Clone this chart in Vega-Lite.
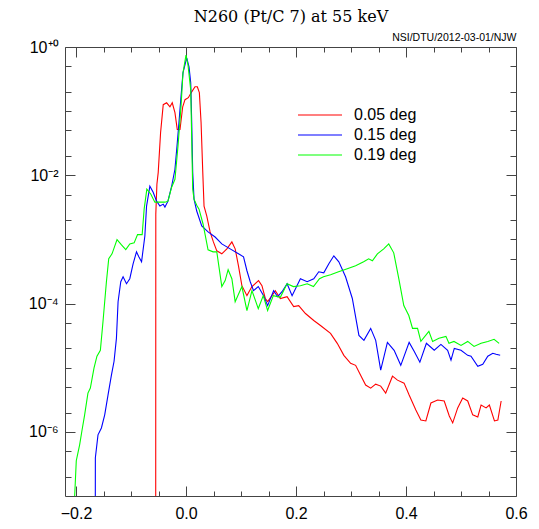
{
  "$schema": "https://vega.github.io/schema/vega-lite/v6.json",
  "width": 451,
  "height": 449,
  "autosize": "none",
  "padding": {"left": 65, "top": 47, "right": 23, "bottom": 33},
  "background": "white",
  "config": {"view": {"stroke": "#444", "strokeWidth": 1}, "font": "Liberation Sans"},
  "datasets": {
    "curves": [
      {"s":"0.05 deg","x":-0.0551,"y":1e-8},{"s":"0.05 deg","x":-0.0549,"y":2.48e-3},{"s":"0.05 deg","x":-0.0529,"y":7.25e-3},{"s":"0.05 deg","x":-0.0505,"y":0.0111},{"s":"0.05 deg","x":-0.0462,"y":0.0464},{"s":"0.05 deg","x":-0.0414,"y":0.126},{"s":"0.05 deg","x":-0.0352,"y":0.135},{"s":"0.05 deg","x":-0.0292,"y":0.117},{"s":"0.05 deg","x":-0.025,"y":0.135},{"s":"0.05 deg","x":-0.0201,"y":0.0948},{"s":"0.05 deg","x":-0.0159,"y":0.0517},{"s":"0.05 deg","x":-0.0109,"y":0.0517},{"s":"0.05 deg","x":-0.006,"y":0.117},{"s":"0.05 deg","x":-0.0018,"y":0.151},{"s":"0.05 deg","x":0.0042,"y":0.162},{"s":"0.05 deg","x":0.0104,"y":0.2},{"s":"0.05 deg","x":0.0164,"y":0.24},{"s":"0.05 deg","x":0.0206,"y":0.24},{"s":"0.05 deg","x":0.0243,"y":0.194},{"s":"0.05 deg","x":0.0274,"y":0.0663},{"s":"0.05 deg","x":0.0305,"y":0.0111},{"s":"0.05 deg","x":0.0328,"y":3.31e-3},{"s":"0.05 deg","x":0.0378,"y":2.31e-3},{"s":"0.05 deg","x":0.0438,"y":1.31e-3},{"s":"0.05 deg","x":0.0498,"y":9.15e-4},{"s":"0.05 deg","x":0.056,"y":6.64e-4},{"s":"0.05 deg","x":0.0651,"y":5.96e-4},{"s":"0.05 deg","x":0.0743,"y":7.13e-4},{"s":"0.05 deg","x":0.0834,"y":9.15e-4},{"s":"0.05 deg","x":0.0894,"y":7.13e-4},{"s":"0.05 deg","x":0.0954,"y":3.88e-4},{"s":"0.05 deg","x":0.1016,"y":1.9e-4},{"s":"0.05 deg","x":0.1108,"y":1.33e-4},{"s":"0.05 deg","x":0.1199,"y":1.84e-4},{"s":"0.05 deg","x":0.1319,"y":2.28e-4},{"s":"0.05 deg","x":0.1381,"y":1.9e-4},{"s":"0.05 deg","x":0.1442,"y":1.2e-4},{"s":"0.05 deg","x":0.1484,"y":1.07e-4},{"s":"0.05 deg","x":0.1564,"y":1.33e-4},{"s":"0.05 deg","x":0.1624,"y":1.59e-4},{"s":"0.05 deg","x":0.1715,"y":1.2e-4},{"s":"0.05 deg","x":0.1838,"y":1.28e-4},{"s":"0.05 deg","x":0.1958,"y":8.98e-5},{"s":"0.05 deg","x":0.2049,"y":9.3e-5},{"s":"0.05 deg","x":0.2172,"y":7.0e-5},{"s":"0.05 deg","x":0.2323,"y":5.45e-5},{"s":"0.05 deg","x":0.2445,"y":4.56e-5},{"s":"0.05 deg","x":0.2628,"y":3.43e-5},{"s":"0.05 deg","x":0.275,"y":2.4e-5},{"s":"0.05 deg","x":0.287,"y":1.56e-5},{"s":"0.05 deg","x":0.2993,"y":1.17e-5},{"s":"0.05 deg","x":0.3084,"y":1.09e-5},{"s":"0.05 deg","x":0.3175,"y":7.65e-6},{"s":"0.05 deg","x":0.3266,"y":5.36e-6},{"s":"0.05 deg","x":0.3358,"y":4.81e-6},{"s":"0.05 deg","x":0.3449,"y":5.55e-6},{"s":"0.05 deg","x":0.354,"y":5.17e-6},{"s":"0.05 deg","x":0.3631,"y":4.02e-6},{"s":"0.05 deg","x":0.3754,"y":7.38e-6},{"s":"0.05 deg","x":0.3845,"y":6.4e-6},{"s":"0.05 deg","x":0.3965,"y":5.75e-6},{"s":"0.05 deg","x":0.4057,"y":3.75e-6},{"s":"0.05 deg","x":0.4179,"y":2.2e-6},{"s":"0.05 deg","x":0.427,"y":1.53e-6},{"s":"0.05 deg","x":0.4361,"y":1.48e-6},{"s":"0.05 deg","x":0.4453,"y":2.82e-6},{"s":"0.05 deg","x":0.4575,"y":3.13e-6},{"s":"0.05 deg","x":0.4695,"y":3.03e-6},{"s":"0.05 deg","x":0.4787,"y":1.77e-6},{"s":"0.05 deg","x":0.4849,"y":1.38e-6},{"s":"0.05 deg","x":0.494,"y":2.36e-6},{"s":"0.05 deg","x":0.5031,"y":3.37e-6},{"s":"0.05 deg","x":0.5122,"y":3.03e-6},{"s":"0.05 deg","x":0.5213,"y":1.84e-6},{"s":"0.05 deg","x":0.5305,"y":1.71e-6},{"s":"0.05 deg","x":0.5365,"y":2.62e-6},{"s":"0.05 deg","x":0.5456,"y":2.36e-6},{"s":"0.05 deg","x":0.5516,"y":2.62e-6},{"s":"0.05 deg","x":0.5608,"y":1.48e-6},{"s":"0.05 deg","x":0.567,"y":1.53e-6},{"s":"0.05 deg","x":0.573,"y":3.03e-6},
      {"s":"0.15 deg","x":-0.165,"y":1e-8},{"s":"0.15 deg","x":-0.1648,"y":3.95e-7},{"s":"0.15 deg","x":-0.16,"y":8.98e-7},{"s":"0.15 deg","x":-0.1538,"y":1.15e-6},{"s":"0.15 deg","x":-0.1478,"y":1.84e-6},{"s":"0.15 deg","x":-0.1418,"y":3.75e-6},{"s":"0.15 deg","x":-0.1356,"y":7.65e-6},{"s":"0.15 deg","x":-0.1308,"y":1.26e-5},{"s":"0.15 deg","x":-0.1265,"y":2.87e-5},{"s":"0.15 deg","x":-0.1235,"y":1.07e-4},{"s":"0.15 deg","x":-0.1186,"y":2.19e-4},{"s":"0.15 deg","x":-0.1144,"y":2.62e-4},{"s":"0.15 deg","x":-0.1082,"y":2.04e-4},{"s":"0.15 deg","x":-0.1022,"y":2.44e-4},{"s":"0.15 deg","x":-0.0962,"y":4.17e-4},{"s":"0.15 deg","x":-0.09,"y":6.4e-4},{"s":"0.15 deg","x":-0.0858,"y":5.36e-4},{"s":"0.15 deg","x":-0.0808,"y":4.48e-4},{"s":"0.15 deg","x":-0.0748,"y":1.13e-3},{"s":"0.15 deg","x":-0.0717,"y":3.31e-3},{"s":"0.15 deg","x":-0.0657,"y":6.75e-3},{"s":"0.15 deg","x":-0.0597,"y":5.45e-3},{"s":"0.15 deg","x":-0.0535,"y":3.95e-3},{"s":"0.15 deg","x":-0.0474,"y":3.31e-3},{"s":"0.15 deg","x":-0.0414,"y":3.55e-3},{"s":"0.15 deg","x":-0.0383,"y":3.19e-3},{"s":"0.15 deg","x":-0.0328,"y":3.95e-3},{"s":"0.15 deg","x":-0.0261,"y":6.75e-3},{"s":"0.15 deg","x":-0.0201,"y":0.0124},{"s":"0.15 deg","x":-0.0164,"y":0.0282},{"s":"0.15 deg","x":-0.0128,"y":0.0663},{"s":"0.15 deg","x":-0.0091,"y":0.168},{"s":"0.15 deg","x":-0.0055,"y":0.395},{"s":"0.15 deg","x":0.0013,"y":0.675},{"s":"0.15 deg","x":0.0055,"y":0.49},{"s":"0.15 deg","x":0.0086,"y":0.277},{"s":"0.15 deg","x":0.0104,"y":0.0663},{"s":"0.15 deg","x":0.0122,"y":0.0111},{"s":"0.15 deg","x":0.0146,"y":4.25e-3},{"s":"0.15 deg","x":0.0195,"y":2.77e-3},{"s":"0.15 deg","x":0.0286,"y":1.62e-3},{"s":"0.15 deg","x":0.0401,"y":1.31e-3},{"s":"0.15 deg","x":0.0529,"y":1.09e-3},{"s":"0.15 deg","x":0.0651,"y":8.52e-4},{"s":"0.15 deg","x":0.0803,"y":7.13e-4},{"s":"0.15 deg","x":0.0954,"y":5.96e-4},{"s":"0.15 deg","x":0.1046,"y":5.36e-4},{"s":"0.15 deg","x":0.1108,"y":3.25e-4},{"s":"0.15 deg","x":0.1168,"y":2.19e-4},{"s":"0.15 deg","x":0.1228,"y":1.59e-4},{"s":"0.15 deg","x":0.1314,"y":1.84e-4},{"s":"0.15 deg","x":0.1411,"y":1.33e-4},{"s":"0.15 deg","x":0.1484,"y":9.3e-5},{"s":"0.15 deg","x":0.1593,"y":1.59e-4},{"s":"0.15 deg","x":0.1666,"y":1.28e-4},{"s":"0.15 deg","x":0.1746,"y":1.53e-4},{"s":"0.15 deg","x":0.1838,"y":2.04e-4},{"s":"0.15 deg","x":0.1929,"y":1.33e-4},{"s":"0.15 deg","x":0.208,"y":2.44e-4},{"s":"0.15 deg","x":0.2203,"y":2.19e-4},{"s":"0.15 deg","x":0.2323,"y":2.44e-4},{"s":"0.15 deg","x":0.2414,"y":3.13e-4},{"s":"0.15 deg","x":0.2505,"y":3.02e-4},{"s":"0.15 deg","x":0.2597,"y":4.17e-4},{"s":"0.15 deg","x":0.2688,"y":5.55e-4},{"s":"0.15 deg","x":0.2779,"y":4.48e-4},{"s":"0.15 deg","x":0.2901,"y":2.62e-4},{"s":"0.15 deg","x":0.3024,"y":1.2e-4},{"s":"0.15 deg","x":0.3144,"y":3.19e-5},{"s":"0.15 deg","x":0.3235,"y":2.67e-5},{"s":"0.15 deg","x":0.3358,"y":4.1e-5},{"s":"0.15 deg","x":0.3449,"y":2.67e-5},{"s":"0.15 deg","x":0.354,"y":9.15e-6},{"s":"0.15 deg","x":0.3662,"y":2.48e-5},{"s":"0.15 deg","x":0.3784,"y":1.87e-5},{"s":"0.15 deg","x":0.3905,"y":1.09e-5},{"s":"0.15 deg","x":0.4057,"y":2.48e-5},{"s":"0.15 deg","x":0.4148,"y":1.8e-5},{"s":"0.15 deg","x":0.4252,"y":1.22e-5},{"s":"0.15 deg","x":0.4371,"y":2.4e-5},{"s":"0.15 deg","x":0.4513,"y":1.87e-5},{"s":"0.15 deg","x":0.4635,"y":2.31e-5},{"s":"0.15 deg","x":0.4757,"y":1.87e-5},{"s":"0.15 deg","x":0.4818,"y":1.31e-5},{"s":"0.15 deg","x":0.4878,"y":2.0e-5},{"s":"0.15 deg","x":0.5,"y":1.87e-5},{"s":"0.15 deg","x":0.5122,"y":1.56e-5},{"s":"0.15 deg","x":0.5182,"y":1.51e-5},{"s":"0.15 deg","x":0.5305,"y":1.05e-5},{"s":"0.15 deg","x":0.5396,"y":1.13e-5},{"s":"0.15 deg","x":0.5487,"y":1.51e-5},{"s":"0.15 deg","x":0.5578,"y":1.68e-5},{"s":"0.15 deg","x":0.5639,"y":1.62e-5},{"s":"0.15 deg","x":0.5712,"y":1.56e-5},
      {"s":"0.19 deg","x":-0.204,"y":5e-8},{"s":"0.19 deg","x":-0.1995,"y":3.55e-7},{"s":"0.19 deg","x":-0.1934,"y":6.28e-7},{"s":"0.19 deg","x":-0.1892,"y":1.04e-6},{"s":"0.19 deg","x":-0.1843,"y":1.84e-6},{"s":"0.19 deg","x":-0.1783,"y":4.02e-6},{"s":"0.19 deg","x":-0.1739,"y":4.81e-6},{"s":"0.19 deg","x":-0.1673,"y":9.82e-6},{"s":"0.19 deg","x":-0.1619,"y":1.51e-5},{"s":"0.19 deg","x":-0.1557,"y":1.87e-5},{"s":"0.19 deg","x":-0.1509,"y":5.26e-5},{"s":"0.19 deg","x":-0.1447,"y":2.19e-4},{"s":"0.19 deg","x":-0.1405,"y":4.99e-4},{"s":"0.19 deg","x":-0.1345,"y":5.96e-4},{"s":"0.19 deg","x":-0.1254,"y":9.93e-4},{"s":"0.19 deg","x":-0.1173,"y":8.22e-4},{"s":"0.19 deg","x":-0.1095,"y":6.95e-4},{"s":"0.19 deg","x":-0.1022,"y":8.52e-4},{"s":"0.19 deg","x":-0.0943,"y":8.83e-4},{"s":"0.19 deg","x":-0.0881,"y":1.19e-3},{"s":"0.19 deg","x":-0.0797,"y":1.19e-3},{"s":"0.19 deg","x":-0.0761,"y":2.97e-3},{"s":"0.19 deg","x":-0.0712,"y":6.07e-3},{"s":"0.19 deg","x":-0.0639,"y":5.07e-3},{"s":"0.19 deg","x":-0.0566,"y":3.81e-3},{"s":"0.19 deg","x":-0.0474,"y":3.81e-3},{"s":"0.19 deg","x":-0.0383,"y":3.81e-3},{"s":"0.19 deg","x":-0.0328,"y":3.95e-3},{"s":"0.19 deg","x":-0.0261,"y":6.52e-3},{"s":"0.19 deg","x":-0.0201,"y":8.67e-3},{"s":"0.19 deg","x":-0.0146,"y":0.0282},{"s":"0.19 deg","x":-0.0091,"y":0.117},{"s":"0.19 deg","x":-0.0055,"y":0.395},{"s":"0.19 deg","x":0.0,"y":0.75},{"s":"0.19 deg","x":0.0036,"y":0.526},{"s":"0.19 deg","x":0.0086,"y":0.215},{"s":"0.19 deg","x":0.0104,"y":0.0362},{"s":"0.19 deg","x":0.0122,"y":6.07e-3},{"s":"0.19 deg","x":0.0146,"y":4.25e-3},{"s":"0.19 deg","x":0.0195,"y":3.4e-3},{"s":"0.19 deg","x":0.0237,"y":2.97e-3},{"s":"0.19 deg","x":0.031,"y":1.74e-3},{"s":"0.19 deg","x":0.0401,"y":6.9e-4},{"s":"0.19 deg","x":0.0493,"y":6.4e-4},{"s":"0.19 deg","x":0.056,"y":6.4e-4},{"s":"0.19 deg","x":0.0651,"y":1.84e-4},{"s":"0.19 deg","x":0.0712,"y":2.28e-4},{"s":"0.19 deg","x":0.0766,"y":3.37e-4},{"s":"0.19 deg","x":0.0834,"y":2.44e-4},{"s":"0.19 deg","x":0.0894,"y":1.07e-4},{"s":"0.19 deg","x":0.1016,"y":1.84e-4},{"s":"0.19 deg","x":0.1108,"y":7.78e-5},{"s":"0.19 deg","x":0.1199,"y":1.59e-4},{"s":"0.19 deg","x":0.1314,"y":8.36e-5},{"s":"0.19 deg","x":0.1405,"y":1.33e-4},{"s":"0.19 deg","x":0.1484,"y":7.78e-5},{"s":"0.19 deg","x":0.1588,"y":1.33e-4},{"s":"0.19 deg","x":0.1715,"y":1.25e-4},{"s":"0.19 deg","x":0.1838,"y":2.04e-4},{"s":"0.19 deg","x":0.1953,"y":1.84e-4},{"s":"0.19 deg","x":0.208,"y":1.9e-4},{"s":"0.19 deg","x":0.2203,"y":2.04e-4},{"s":"0.19 deg","x":0.2318,"y":1.84e-4},{"s":"0.19 deg","x":0.2427,"y":2.44e-4},{"s":"0.19 deg","x":0.25,"y":2.62e-4},{"s":"0.19 deg","x":0.2628,"y":2.82e-4},{"s":"0.19 deg","x":0.2774,"y":3.13e-4},{"s":"0.19 deg","x":0.2932,"y":3.49e-4},{"s":"0.19 deg","x":0.3084,"y":3.88e-4},{"s":"0.19 deg","x":0.323,"y":4.48e-4},{"s":"0.19 deg","x":0.3321,"y":4.99e-4},{"s":"0.19 deg","x":0.3389,"y":4.64e-4},{"s":"0.19 deg","x":0.348,"y":5.96e-4},{"s":"0.19 deg","x":0.3595,"y":7.13e-4},{"s":"0.19 deg","x":0.3686,"y":8.52e-4},{"s":"0.19 deg","x":0.3777,"y":6.18e-4},{"s":"0.19 deg","x":0.3869,"y":2.44e-4},{"s":"0.19 deg","x":0.396,"y":9.3e-5},{"s":"0.19 deg","x":0.4051,"y":6.52e-5},{"s":"0.19 deg","x":0.4119,"y":4.1e-5},{"s":"0.19 deg","x":0.421,"y":4.1e-5},{"s":"0.19 deg","x":0.427,"y":2.57e-5},{"s":"0.19 deg","x":0.4416,"y":3.68e-5},{"s":"0.19 deg","x":0.4484,"y":2.57e-5},{"s":"0.19 deg","x":0.4599,"y":2.87e-5},{"s":"0.19 deg","x":0.4726,"y":3.08e-5},{"s":"0.19 deg","x":0.4781,"y":2.4e-5},{"s":"0.19 deg","x":0.4872,"y":2.57e-5},{"s":"0.19 deg","x":0.5,"y":2.23e-5},{"s":"0.19 deg","x":0.5122,"y":2.57e-5},{"s":"0.19 deg","x":0.5237,"y":2.15e-5},{"s":"0.19 deg","x":0.5365,"y":2.4e-5},{"s":"0.19 deg","x":0.5487,"y":2.57e-5},{"s":"0.19 deg","x":0.5602,"y":2.77e-5},{"s":"0.19 deg","x":0.5693,"y":2.4e-5}
    ],
    "anchor": [{"x": 0, "y": 0.001}]
  },
  "layer": [
    {
      "data": {"name": "curves"},
      "mark": {"type": "line", "strokeWidth": 1.1, "clip": true},
      "encoding": {
        "x": {"field": "x", "type": "quantitative",
          "scale": {"domain": [-0.22, 0.6], "nice": false, "zero": false},
          "axis": {"orient": "bottom", "values": [-0.2, 0, 0.2, 0.4, 0.6], "format": ".1f", "domain": false, "ticks": false, "grid": false, "labelFontSize": 16, "labelFont": "Liberation Sans", "labelColor": "#000", "labelPadding": 9, "title": null, "labelFlush": false, "labelOverlap": false}},
        "y": {"field": "y", "type": "quantitative",
          "scale": {"type": "log", "domain": [1e-7, 1], "nice": false},
          "axis": {"orient": "left", "values": [1, 0.01, 0.0001, 0.000001], "labelExpr": "datum.value > 0.5 ? '10⁺⁰' : datum.value > 0.005 ? '10⁻²' : datum.value > 0.00005 ? '10⁻⁴' : '10⁻⁶'", "domain": false, "ticks": false, "grid": false, "labelFontSize": 16, "labelFont": "Liberation Sans", "labelColor": "#000", "labelPadding": 7, "title": null, "labelFlush": false, "labelOverlap": false}},
        "color": {"field": "s", "type": "nominal",
          "scale": {"domain": ["0.05 deg", "0.15 deg", "0.19 deg"], "range": ["#ff0000", "#0000ff", "#00ff00"]},
          "legend": {"orient": "none", "legendX": 244, "legendY": 57, "title": null, "symbolType": "M-2.2,0H2.2", "symbolSize": 400, "symbolStrokeWidth": 1.2, "labelFontSize": 16, "labelFont": "Liberation Sans", "labelColor": "#000", "labelOffset": 23, "rowPadding": 1, "padding": 0}}
      }
    },
    {
      "data": {"name": "anchor"},
      "mark": {"type": "point", "opacity": 0},
      "encoding": {
        "x": {"field": "x", "type": "quantitative", "axis": {"orient": "bottom", "offset": -10, "tickSize": 10, "values": [-0.2, 0, 0.2, 0.4, 0.6], "labels": false, "domain": false, "grid": false, "tickColor": "#444", "title": null}},
        "y": {"field": "y", "type": "quantitative", "axis": {"orient": "left", "offset": -10, "tickSize": 10, "values": [1, 0.01, 0.0001, 0.000001], "labels": false, "domain": false, "grid": false, "tickColor": "#444", "title": null}}
      }
    },
    {
      "data": {"name": "anchor"},
      "mark": {"type": "point", "opacity": 0},
      "encoding": {
        "x": {"field": "x", "type": "quantitative", "axis": {"orient": "bottom", "offset": -5, "tickSize": 5, "values": [-0.15, -0.1, -0.05, 0.05, 0.1, 0.15, 0.25, 0.3, 0.35, 0.45, 0.5, 0.55], "labels": false, "domain": false, "grid": false, "tickColor": "#444", "title": null}},
        "y": {"field": "y", "type": "quantitative", "axis": {"orient": "left", "offset": -6, "tickSize": 6, "values": [0.5, 0.2, 0.1, 0.05, 0.02, 0.005, 0.002, 0.001, 0.0005, 0.0002, 0.00005, 0.00002, 0.00001, 0.000005, 0.000002, 0.0000005, 0.0000002], "labels": false, "domain": false, "grid": false, "tickColor": "#444", "title": null}}
      }
    },
    {
      "data": {"name": "anchor"},
      "mark": {"type": "point", "opacity": 0},
      "encoding": {
        "x": {"field": "x", "type": "quantitative", "axis": {"orient": "top", "offset": -10, "tickSize": 10, "values": [-0.2, 0, 0.2, 0.4, 0.6], "labels": false, "domain": false, "grid": false, "tickColor": "#444", "title": "NSI/DTU/2012-03-01/NJW", "titleFont": "Liberation Sans", "titleFontSize": 10.5, "titleFontWeight": "normal", "titleColor": "#000", "titleX": 451, "titleY": -17, "titleAlign": "right", "titleBaseline": "alphabetic", "titleAngle": 0}},
        "y": {"field": "y", "type": "quantitative", "axis": {"orient": "right", "offset": -10, "tickSize": 10, "values": [1, 0.01, 0.0001, 0.000001], "labels": false, "domain": false, "grid": false, "tickColor": "#444", "title": null}}
      }
    },
    {
      "data": {"name": "anchor"},
      "mark": {"type": "point", "opacity": 0},
      "encoding": {
        "x": {"field": "x", "type": "quantitative", "axis": {"orient": "top", "offset": -5, "tickSize": 5, "values": [-0.15, -0.1, -0.05, 0.05, 0.1, 0.15, 0.25, 0.3, 0.35, 0.45, 0.5, 0.55], "labels": false, "domain": false, "grid": false, "tickColor": "#444", "title": "N260 (Pt/C 7) at 55 keV", "titleFont": "DejaVu Serif", "titleFontSize": 16, "titleFontWeight": "normal", "titleColor": "#000", "titleX": 225.5, "titleY": -31, "titleAlign": "center", "titleBaseline": "alphabetic", "titleAngle": 0}},
        "y": {"field": "y", "type": "quantitative", "axis": {"orient": "right", "offset": -6, "tickSize": 6, "values": [0.5, 0.2, 0.1, 0.05, 0.02, 0.005, 0.002, 0.001, 0.0005, 0.0002, 0.00005, 0.00002, 0.00001, 0.000005, 0.000002, 0.0000005, 0.0000002], "labels": false, "domain": false, "grid": false, "tickColor": "#444", "title": null}}
      }
    }
  ],
  "resolve": {"axis": {"x": "independent", "y": "independent"}}
}
